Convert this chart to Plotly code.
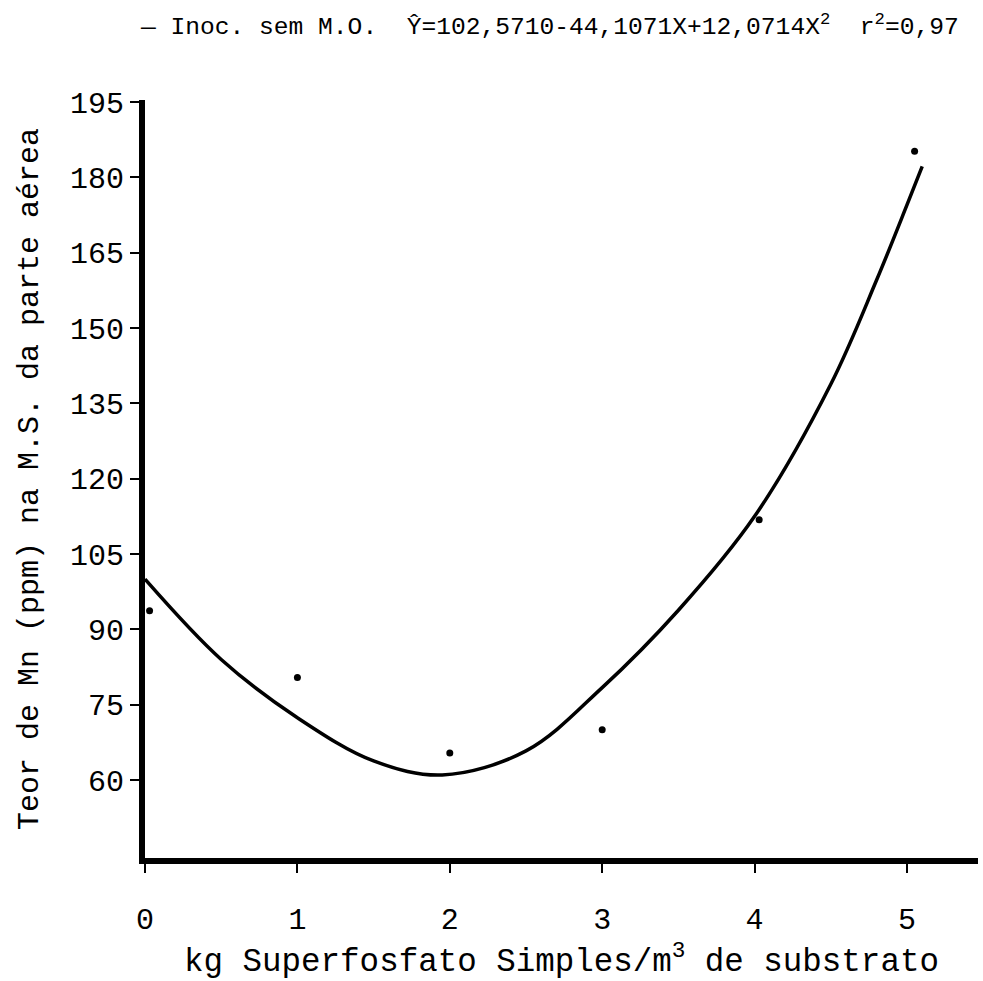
import plotly.graph_objects as go

# Observed means (dots)
dose_x = [0.03, 1.0, 2.0, 3.0, 4.03, 5.05]
mn_obs = [93.7, 80.4, 65.4, 70.0, 111.8, 185.2]

# Fitted curve
curve_x = [0, 0.5, 1.0, 1.5, 1.95, 2.5, 3.0, 3.5, 4.0, 4.5, 4.8, 5.0, 5.1]
curve_y = [100.0, 84.0, 72.4, 63.8, 61.0, 65.8, 78.4, 93.8, 112.5, 138.8, 159.5, 174.5, 182.2]

x_ticks = [0, 1, 2, 3, 4, 5]
y_ticks = [60, 75, 90, 105, 120, 135, 150, 165, 180, 195]

legend_text = ("—\u00a0Inoc.\u00a0sem\u00a0M.O.\u00a0\u00a0"
               "Ŷ=102,5710-44,1071X+12,0714X<sup>2</sup>\u00a0\u00a0r<sup>2</sup>=0,97")

FONT = "Liberation Mono, Courier New, monospace"

fig = go.Figure()
fig.add_trace(go.Scatter(x=curve_x, y=curve_y, mode="lines",
                         line=dict(color="black", width=3.5, shape="spline", smoothing=1.0),
                         showlegend=False, hoverinfo="skip"))
fig.add_trace(go.Scatter(x=dose_x, y=mn_obs, mode="markers",
                         marker=dict(color="black", size=7),
                         showlegend=False))

fig.update_layout(
    width=983, height=981, autosize=False,
    margin=dict(l=145, r=5, t=100, b=123),
    paper_bgcolor="white", plot_bgcolor="white",
    font=dict(family=FONT, color="black"),
    xaxis=dict(range=[0, 5.466], tickvals=x_ticks, ticktext=[str(v) for v in x_ticks],
               showgrid=False, zeroline=False, showline=True, linecolor="black", linewidth=6,
               ticks="outside", ticklen=9, tickwidth=2, tickcolor="black",
               tickfont=dict(size=30, family=FONT), ticklabelstandoff=20,
               title=dict(text="kg Superfosfato Simples/m<sup>3</sup> de substrato",
                          font=dict(size=32.5, family=FONT), standoff=16)),
    yaxis=dict(range=[44.47, 195.4], tickvals=y_ticks, ticktext=[str(v) for v in y_ticks],
               showgrid=False, zeroline=False, showline=True, linecolor="black", linewidth=6,
               ticks="outside", ticklen=9, tickwidth=2, tickcolor="black",
               tickfont=dict(size=30, family=FONT), ticklabelstandoff=0,
               title=dict(text="Teor de Mn (ppm) na M.S. da parte aérea",
                          font=dict(size=30, family=FONT), standoff=24)),
    annotations=[dict(text=legend_text, xref="paper", yref="paper",
                      x=-0.008, y=1.098, xanchor="left", yanchor="middle",
                      showarrow=False, font=dict(size=24.6, family=FONT, color="black"))],
)

fig.write_html("out.html")
